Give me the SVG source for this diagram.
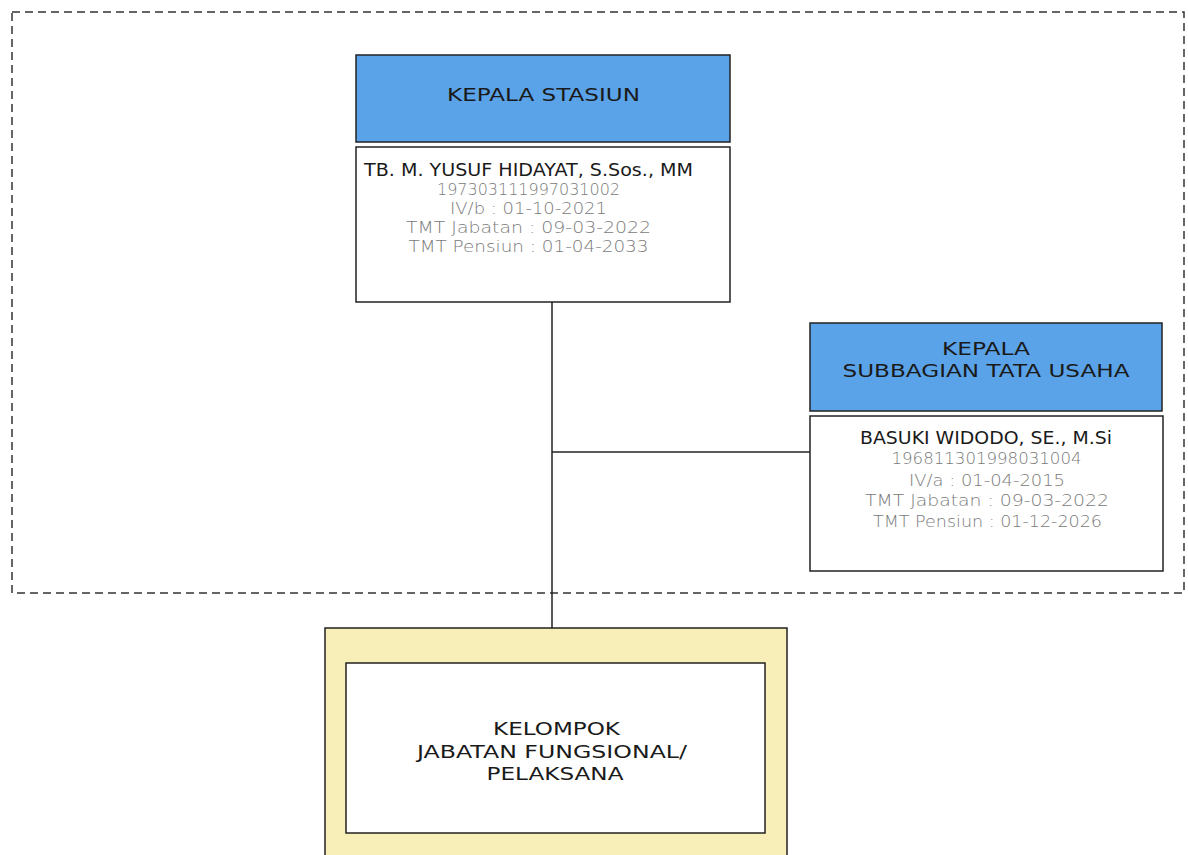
<svg xmlns="http://www.w3.org/2000/svg" width="1188" height="855" viewBox="0 0 1188 855">
<style>
.hdr{fill:#5AA3E8;stroke:#222;stroke-width:1.5}
.body{fill:#fff;stroke:#222;stroke-width:1.5}
.t{font-family:"DejaVu Sans",sans-serif;text-anchor:middle}
.h{font-size:18.5px;fill:#1a1a1a}
.n{font-size:17px;fill:#1a1a1a}
.g{font-size:16.5px;fill:#7a7a7a;font-weight:200}
.conn{stroke:#222;stroke-width:1.5;fill:none}
</style>
<rect width="1188" height="855" fill="#fff"/>
<rect x="12" y="12" width="1172" height="581" fill="none" stroke="#333" stroke-width="1.5" stroke-dasharray="8,5"/>
<g id="connectors">
<line class="conn" x1="552" y1="302" x2="552" y2="628"/>
<line class="conn" x1="552" y1="452" x2="810" y2="452"/>
</g>
<g id="kepala-stasiun">
<rect class="hdr" x="356" y="55" width="374" height="87"/>
<text class="t h" x="543.5" y="101" textLength="193" lengthAdjust="spacingAndGlyphs">KEPALA STASIUN</text>
<rect class="body" x="356" y="147" width="374" height="155"/>
<text class="t n" x="528.5" y="176" textLength="329" lengthAdjust="spacingAndGlyphs">TB. M. YUSUF HIDAYAT, S.Sos., MM</text>
<text class="t g" x="528.5" y="195" textLength="183" lengthAdjust="spacingAndGlyphs">197303111997031002</text>
<text class="t g" x="528.5" y="214" textLength="157" lengthAdjust="spacingAndGlyphs">IV/b : 01-10-2021</text>
<text class="t g" x="528.5" y="233" textLength="245" lengthAdjust="spacingAndGlyphs">TMT Jabatan : 09-03-2022</text>
<text class="t g" x="528.5" y="252" textLength="240" lengthAdjust="spacingAndGlyphs">TMT Pensiun : 01-04-2033</text>
</g>
<g id="kasubbag-tu">
<rect class="hdr" x="810" y="323" width="352" height="88"/>
<text class="t h" x="986" y="355" textLength="88" lengthAdjust="spacingAndGlyphs">KEPALA</text>
<text class="t h" x="986" y="377" textLength="287" lengthAdjust="spacingAndGlyphs">SUBBAGIAN TATA USAHA</text>
<rect class="body" x="810" y="416" width="353" height="155"/>
<text class="t n" x="986" y="444" textLength="252" lengthAdjust="spacingAndGlyphs">BASUKI WIDODO, SE., M.Si</text>
<text class="t g" x="986.5" y="464" textLength="190" lengthAdjust="spacingAndGlyphs">196811301998031004</text>
<text class="t g" x="987" y="486" textLength="156" lengthAdjust="spacingAndGlyphs">IV/a : 01-04-2015</text>
<text class="t g" x="987" y="506" textLength="244" lengthAdjust="spacingAndGlyphs">TMT Jabatan : 09-03-2022</text>
<text class="t g" x="987.5" y="527" textLength="229" lengthAdjust="spacingAndGlyphs">TMT Pensiun : 01-12-2026</text>
</g>
<g id="kelompok">
<rect x="325" y="628" width="462" height="240" fill="#F8EFB8" stroke="#222" stroke-width="1.5"/>
<rect class="body" x="346" y="663" width="419" height="170"/>
<text class="t h" x="556.5" y="735" textLength="127" lengthAdjust="spacingAndGlyphs">KELOMPOK</text>
<text class="t h" x="552" y="758" textLength="270" lengthAdjust="spacingAndGlyphs">JABATAN FUNGSIONAL/</text>
<text class="t h" x="555" y="780" textLength="137" lengthAdjust="spacingAndGlyphs">PELAKSANA</text>
</g>
</svg>
